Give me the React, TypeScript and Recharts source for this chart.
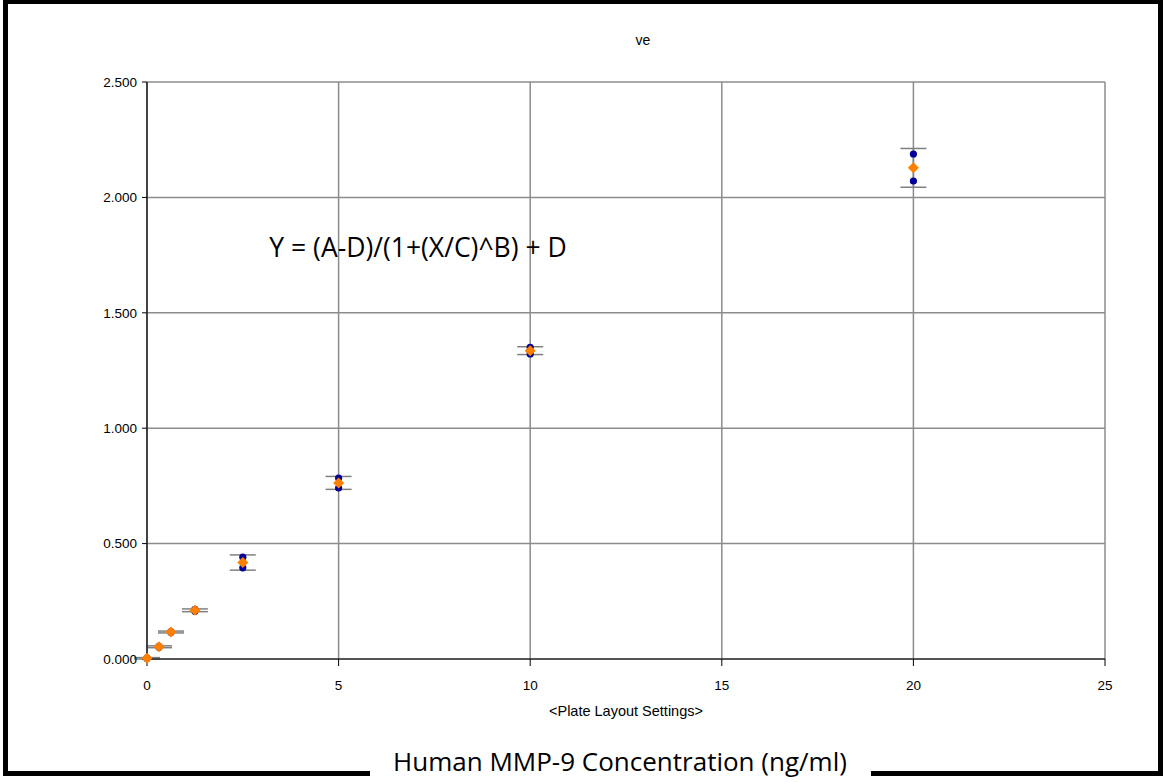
import React from 'react';
import { ScatterChart, Scatter, XAxis, YAxis, CartesianGrid, ErrorBar } from 'recharts';

// standard concentrations (ng/ml) and measured OD values
const concentrations = [0, 0.3125, 0.625, 1.25, 2.5, 5, 10, 20];
const replicateA = [0.004, 0.055, 0.119, 0.215, 0.441, 0.784, 1.35, 2.188];
const replicateB = [0.002, 0.051, 0.115, 0.207, 0.395, 0.741, 1.322, 2.071];
const meanOD = [0.003, 0.053, 0.117, 0.211, 0.418, 0.763, 1.336, 2.128];
const sdOD = [0.003, 0.004, 0.004, 0.006, 0.033, 0.028, 0.017, 0.084];

const xTicks = [0, 5, 10, 15, 20, 25];
const yTicks = [0, 0.5, 1, 1.5, 2, 2.5];

const repAData = concentrations.map((x, i) => ({ x, y: replicateA[i] }));
const repBData = concentrations.map((x, i) => ({ x, y: replicateB[i] }));
const meanData = concentrations.map((x, i) => ({ x, y: meanOD[i], err: sdOD[i] }));

const arial = '"Liberation Sans", Arial, sans-serif';
const tickFont = { fontSize: 13.5, fontFamily: arial, fill: '#000', stroke: 'none' };

const BlueDot = (props: any) => <circle cx={props.cx} cy={props.cy} r={3.6} fill="#000099" />;

const OrangeDiamond = (props: any) => {
  const { cx, cy } = props;
  const s = 5.5;
  return (
    <polygon
      points={`${cx},${cy - s} ${cx + s},${cy} ${cx},${cy + s} ${cx - s},${cy}`}
      fill="#FF8000"
    />
  );
};

const Nothing = () => <g />;

const App: React.FC = () => {
  return (
    <div style={{ position: 'absolute', left: 0, top: 0, width: 1163, height: 784, background: '#fff' }}>
      <ScatterChart width={1163} height={784} margin={{ top: 82, right: 58, bottom: 95, left: 87 }}>
        <CartesianGrid stroke="#8c8c8c" strokeWidth={1.5} />
        <XAxis
          type="number"
          dataKey="x"
          domain={[0, 25]}
          ticks={xTicks}
          height={30}
          axisLine={{ stroke: '#000' }}
          tickLine={{ stroke: '#000' }}
          tickSize={7}
          tickMargin={14}
          tick={tickFont}
        />
        <YAxis
          type="number"
          dataKey="y"
          domain={[0, 2.5]}
          ticks={yTicks}
          width={60}
          axisLine={{ stroke: '#222', strokeWidth: 1.5 }}
          tickLine={{ stroke: '#000' }}
          tickSize={5}
          tickMargin={5}
          tick={tickFont}
          tickFormatter={(v: number) => v.toFixed(3)}
        />
        <Scatter data={meanData} shape={Nothing} isAnimationActive={false}>
          <ErrorBar dataKey="err" direction="y" width={13} stroke="#808080" strokeWidth={1.5} />
        </Scatter>
        <Scatter data={repAData} shape={BlueDot} isAnimationActive={false} />
        <Scatter data={repBData} shape={BlueDot} isAnimationActive={false} />
        <Scatter data={meanData} shape={OrangeDiamond} isAnimationActive={false} />
      </ScatterChart>
      <div
        style={{
          position: 'absolute',
          left: 3,
          top: -1,
          width: 1160,
          height: 777,
          border: '5px solid #000',
          boxSizing: 'border-box',
          pointerEvents: 'none',
        }}
      />
      <svg width={1163} height={784} style={{ position: 'absolute', left: 0, top: 0, pointerEvents: 'none' }}>
        <text x={643} y={45} textAnchor="middle" fontSize={14} fontFamily={arial} fill="#000">
          ve
        </text>
        <text x={418} y={257} textAnchor="middle" fontSize={26.5} fontFamily='"Open Sans", sans-serif' fill="#000">
          Y = (A-D)/(1+(X/C)^B) + D
        </text>
        <text x={626} y={716} textAnchor="middle" fontSize={14.5} fontFamily={arial} fill="#000">
          {'<Plate Layout Settings>'}
        </text>
        <rect x={370} y={764} width={501} height={20} fill="#fff" />
        <text x={620} y={771} textAnchor="middle" fontSize={26} fontFamily='"Open Sans", sans-serif' fill="#000">
          Human MMP-9 Concentration (ng/ml)
        </text>
      </svg>
    </div>
  );
};

export default App;
